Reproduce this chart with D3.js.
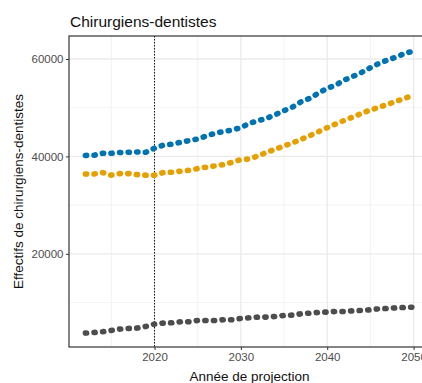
<!DOCTYPE html>
<html>
<head>
<meta charset="utf-8">
<script src="https://cdn.jsdelivr.net/npm/d3@7"></script>
<style>
  html, body { margin: 0; padding: 0; background: #fff; }
  svg { display: block; font-family: "Liberation Sans", Arial, sans-serif; }
</style>
</head>
<body>
<svg id="chart" width="422" height="383"></svg>
<script>
// Projection years and the three series of dentist headcounts
const years = d3.range(2012, 2051);
const seriesBlue = [40200, 40250, 40650, 40650, 40800, 40850, 40900, 40850, 41680, 42300,
  42500, 42900, 43240, 43580, 44200, 44750, 45100, 45430, 45900, 46800,
  47340, 47830, 48570, 49390, 50150, 51240, 51930, 53020, 53980, 54660,
  55690, 56440, 57260, 58210, 59110, 59790, 60400, 61160, 61630];
const seriesOrange = [36400, 36400, 36670, 36140, 36470, 36470, 36260, 36140, 36140, 36670,
  36750, 36960, 37160, 37500, 37780, 38050, 38310, 38800, 39340, 39480,
  40100, 40850, 41470, 42150, 42780, 43520, 44260, 45080, 45900, 46660,
  47420, 48100, 48850, 49530, 50080, 50700, 51320, 51930, 52610];
const seriesGrey = [3730, 3860, 4000, 4270, 4550, 4680, 4760, 5090, 5580, 5780,
  5850, 6050, 6050, 6320, 6320, 6320, 6460, 6460, 6730, 6870,
  7010, 7010, 7140, 7350, 7420, 7690, 7830, 7970, 8040, 8170,
  8170, 8310, 8380, 8510, 8720, 8780, 8920, 8990, 9060];
const colours = ["#0072B2", "#E69F00", "#4D4D4D"];
const yTicks = [20000, 40000, 60000];
const yMinor = [10000, 30000, 50000];
const xTicks = [2020, 2030, 2040, 2050];
const xMinor = [2015, 2025, 2035, 2045];
const refYear = 2020;

const svg = d3.select("#chart");
const panel = { left: 69, top: 36, right: 430, bottom: 347 };

const x = d3.scaleLinear().domain([2010.1, 2051.9]).range([panel.left, panel.right]);
const y = d3.scaleLinear().domain([870, 64720]).range([panel.bottom, panel.top]);

svg.append("defs").append("clipPath").attr("id", "clip")
  .append("rect").attr("x", panel.left).attr("y", panel.top)
  .attr("width", panel.right - panel.left).attr("height", panel.bottom - panel.top);

const g = svg.append("g").attr("clip-path", "url(#clip)");

// Grid
g.selectAll(".ymin").data(yMinor).join("line")
  .attr("x1", panel.left).attr("x2", panel.right)
  .attr("y1", d => y(d)).attr("y2", d => y(d))
  .attr("stroke", "#f0f0f0").attr("stroke-width", 0.8);
g.selectAll(".xmin").data(xMinor).join("line")
  .attr("y1", panel.top).attr("y2", panel.bottom)
  .attr("x1", d => x(d)).attr("x2", d => x(d))
  .attr("stroke", "#f0f0f0").attr("stroke-width", 0.8);
g.selectAll(".ymaj").data(yTicks).join("line")
  .attr("x1", panel.left).attr("x2", panel.right)
  .attr("y1", d => y(d)).attr("y2", d => y(d))
  .attr("stroke", "#ebebeb").attr("stroke-width", 1.3);
g.selectAll(".xmaj").data(xTicks).join("line")
  .attr("y1", panel.top).attr("y2", panel.bottom)
  .attr("x1", d => x(d)).attr("x2", d => x(d))
  .attr("stroke", "#ebebeb").attr("stroke-width", 1.3);

// Reference year
g.append("line")
  .attr("x1", x(refYear)).attr("x2", x(refYear))
  .attr("y1", panel.top).attr("y2", panel.bottom)
  .attr("stroke", "#111").attr("stroke-width", 1)
  .attr("stroke-dasharray", "1.5,1.5");

// Series as thick dotted lines
const line = d3.line().x((d, i) => x(years[i])).y(d => y(d));
[seriesBlue, seriesOrange, seriesGrey].forEach((s, k) => {
  g.append("path").datum(s)
    .attr("d", line)
    .attr("fill", "none")
    .attr("stroke", colours[k])
    .attr("stroke-width", 5.6)
    .attr("stroke-linecap", "round")
    .attr("stroke-dasharray", "1.2,7.4");
});

// Panel border
svg.append("rect")
  .attr("x", panel.left).attr("y", panel.top)
  .attr("width", panel.right - panel.left).attr("height", panel.bottom - panel.top)
  .attr("fill", "none").attr("stroke", "#333").attr("stroke-width", 1.2);

// Axes
const yAxis = svg.append("g").attr("transform", `translate(${panel.left},0)`)
  .call(d3.axisLeft(y).tickValues(yTicks).tickSize(3).tickPadding(2.5).tickFormat(d3.format("d")));
const xAxis = svg.append("g").attr("transform", `translate(0,${panel.bottom})`)
  .call(d3.axisBottom(x).tickValues(xTicks).tickSize(3).tickPadding(3).tickFormat(d3.format("d")));
[yAxis, xAxis].forEach(a => {
  a.select(".domain").remove();
  a.selectAll(".tick line").attr("stroke", "#333");
  a.selectAll(".tick text").attr("fill", "#4d4d4d").style("font-size", "11.5px")
    .style("font-family", "'Liberation Sans', Arial, sans-serif");
});

// Titles
svg.append("text").attr("x", 70).attr("y", 27)
  .style("font-size", "15.5px").attr("fill", "#111")
  .text("Chirurgiens-dentistes");
svg.append("text")
  .attr("x", (panel.left + panel.right) / 2).attr("y", 381)
  .attr("text-anchor", "middle").style("font-size", "13.5px").attr("fill", "#111")
  .text("Année de projection");
svg.append("text")
  .attr("transform", `translate(23,${(panel.top + panel.bottom) / 2}) rotate(-90)`)
  .attr("text-anchor", "middle").style("font-size", "13.5px").attr("fill", "#111")
  .text("Effectifs de chirurgiens-dentistes");
</script>
</body>
</html>
